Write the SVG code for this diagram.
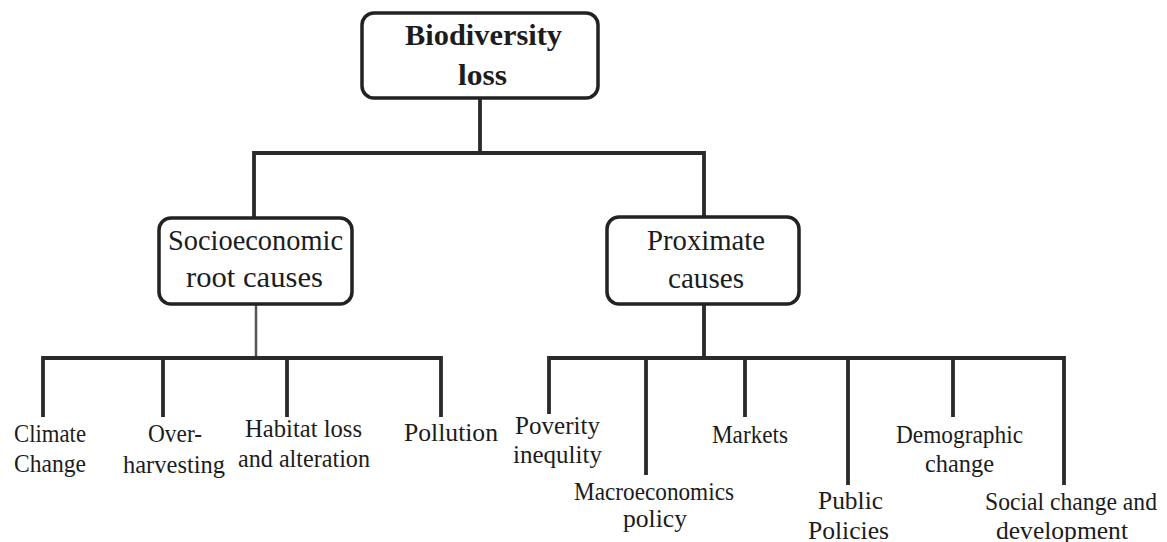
<svg xmlns="http://www.w3.org/2000/svg" width="1167" height="542" viewBox="0 0 1167 542">
<style>
.box{fill:#fff;stroke:#222;stroke-width:3.5}
.ln{fill:none;stroke:#2a2a2a;stroke-width:3.8;stroke-linecap:square}
.thin{fill:none;stroke:#555;stroke-width:2.5}
text{font-family:'Liberation Serif','DejaVu Serif',serif;fill:#1c1c1c;text-anchor:middle}
.lf{font-size:25px}
.mid{font-size:30px}
.top{font-size:30px;font-weight:bold}
</style>
<rect width="1167" height="542" fill="#fff"/>
<g id="connectors">
<path class="ln" d="M480 98V153M254 153H704M254 153V218M704 153V217"/>
<path class="thin" d="M256 304V358"/>
<path class="ln" d="M43 358H441M43 358V415M163 358V415M287 358V415M441 358V415"/>
<path class="ln" d="M704 304V358M549 358H1064M549 358V412M646 358V473M745 358V415M848 358V483M953 358V415M1064 358V483"/>
</g>
<g id="biodiversity-loss">
<rect class="box" x="362" y="13" width="236" height="85" rx="12"/>
<text class="top" x="483.5" y="45" textLength="157" lengthAdjust="spacingAndGlyphs">Biodiversity</text>
<text class="top" x="482.5" y="85" textLength="49" lengthAdjust="spacingAndGlyphs">loss</text>
</g>
<g id="socioeconomic">
<rect class="box" x="159" y="218" width="193" height="86" rx="12"/>
<text class="mid" x="255.5" y="250" textLength="175" lengthAdjust="spacingAndGlyphs">Socioeconomic</text>
<text class="mid" x="254.5" y="287" textLength="137" lengthAdjust="spacingAndGlyphs">root causes</text>
</g>
<g id="proximate">
<rect class="box" x="607" y="217" width="192" height="87" rx="12"/>
<text class="mid" x="706" y="250" textLength="118" lengthAdjust="spacingAndGlyphs">Proximate</text>
<text class="mid" x="706" y="288" textLength="76" lengthAdjust="spacingAndGlyphs">causes</text>
</g>
<g id="climate-change"><text class="lf" x="50" y="442" textLength="72" lengthAdjust="spacingAndGlyphs">Climate</text><text class="lf" x="50" y="472" textLength="72" lengthAdjust="spacingAndGlyphs">Change</text></g>
<g id="over-harvesting"><text class="lf" x="175" y="442" textLength="54" lengthAdjust="spacingAndGlyphs">Over-</text><text class="lf" x="174" y="473" textLength="102" lengthAdjust="spacingAndGlyphs">harvesting</text></g>
<g id="habitat-loss"><text class="lf" x="303.5" y="437" textLength="117" lengthAdjust="spacingAndGlyphs">Habitat loss</text><text class="lf" x="304" y="467" textLength="132" lengthAdjust="spacingAndGlyphs">and alteration</text></g>
<g id="pollution"><text class="lf" x="451" y="441" textLength="94" lengthAdjust="spacingAndGlyphs">Pollution</text></g>
<g id="poverty"><text class="lf" x="557.5" y="434" textLength="85" lengthAdjust="spacingAndGlyphs">Poverity</text><text class="lf" x="557.5" y="463" textLength="89" lengthAdjust="spacingAndGlyphs">inequlity</text></g>
<g id="macroeconomics"><text class="lf" x="654" y="500" textLength="160" lengthAdjust="spacingAndGlyphs">Macroeconomics</text><text class="lf" x="655" y="527" textLength="64" lengthAdjust="spacingAndGlyphs">policy</text></g>
<g id="markets"><text class="lf" x="750" y="443" textLength="76" lengthAdjust="spacingAndGlyphs">Markets</text></g>
<g id="public-policies"><text class="lf" x="850.5" y="509" textLength="65" lengthAdjust="spacingAndGlyphs">Public</text><text class="lf" x="848.5" y="539" textLength="81" lengthAdjust="spacingAndGlyphs">Policies</text></g>
<g id="demographic"><text class="lf" x="959.5" y="443" textLength="127" lengthAdjust="spacingAndGlyphs">Demographic</text><text class="lf" x="959.5" y="472" textLength="69" lengthAdjust="spacingAndGlyphs">change</text></g>
<g id="social-change"><text class="lf" x="1071" y="510" textLength="172" lengthAdjust="spacingAndGlyphs">Social change and</text><text class="lf" x="1062" y="539" textLength="132" lengthAdjust="spacingAndGlyphs">development</text></g>
</svg>
